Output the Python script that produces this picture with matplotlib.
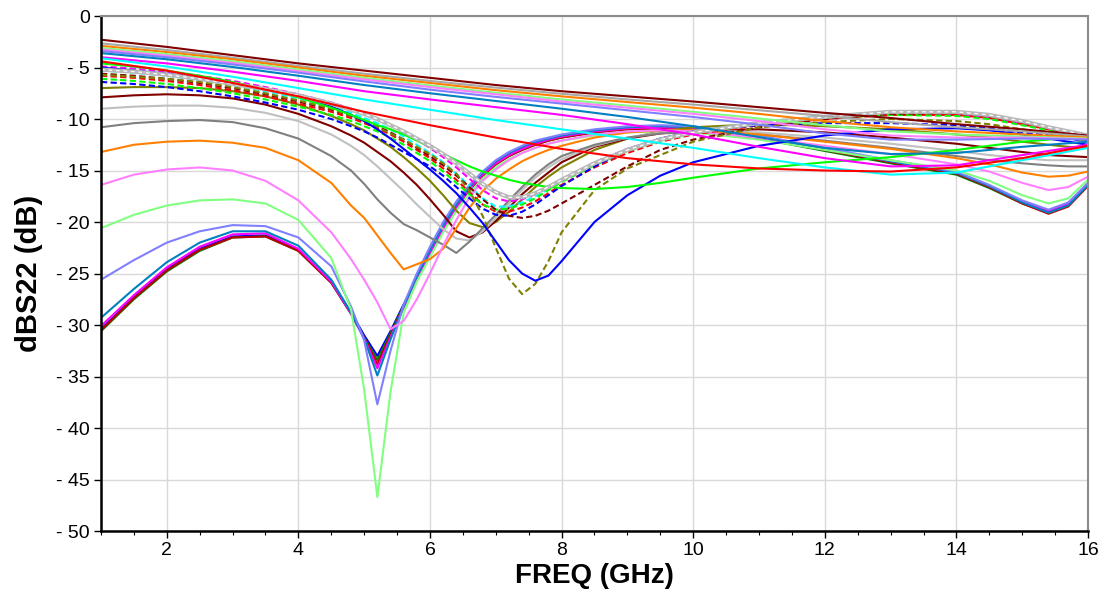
import matplotlib
matplotlib.use("Agg")
import matplotlib.pyplot as plt
from matplotlib.ticker import MultipleLocator, FuncFormatter

plt.rcParams['font.family'] = ['Liberation Sans', 'DejaVu Sans']

# upper traces, read every 1 GHz
FREQ_UPPER = [1, 2, 3, 4, 5, 6, 7, 8, 9, 10, 11, 12, 13, 14, 15, 16]
UPPER = [
    [-2.3, -3.0, -3.8, -4.6, -5.3, -6.0, -6.7, -7.3, -7.8, -8.3, -8.85, -9.4, -9.9, -10.5, -11.0, -11.6],
    [-2.65, -3.3, -4.05, -4.85, -5.6, -6.3, -6.95, -7.55, -8.1, -8.6, -9.15, -9.7, -10.3, -10.8, -11.2, -11.7],
    [-2.9, -3.5, -4.2, -5.0, -5.8, -6.5, -7.2, -7.8, -8.35, -8.9, -9.5, -10.2, -10.8, -11.2, -11.5, -11.8],
    [-3.1, -3.7, -4.4, -5.2, -6.0, -6.75, -7.45, -8.1, -8.7, -9.3, -9.95, -10.6, -11.2, -11.5, -11.7, -11.9],
    [-3.25, -3.85, -4.55, -5.35, -6.15, -6.9, -7.6, -8.3, -8.9, -9.5, -10.2, -11.0, -11.6, -11.8, -11.8, -11.95],
    [-3.4, -4.0, -4.7, -5.5, -6.35, -7.15, -7.85, -8.5, -9.15, -9.8, -10.55, -11.4, -12.0, -12.0, -11.9, -12.0],
    [-3.6, -4.2, -4.95, -5.8, -6.7, -7.5, -8.25, -9.0, -9.8, -10.7, -11.75, -12.8, -13.4, -13.3, -12.7, -12.2],
    [-4.0, -4.6, -5.4, -6.3, -7.3, -8.1, -8.85, -9.6, -10.5, -11.5, -12.7, -13.8, -14.6, -14.5, -13.5, -12.5],
    [-4.1, -4.9, -5.9, -7.0, -8.1, -9.1, -10.1, -11.0, -11.9, -12.8, -13.8, -14.7, -15.4, -15.2, -14.0, -12.8],
    [-4.4, -5.3, -6.5, -7.8, -9.3, -10.6, -11.8, -12.9, -13.8, -14.4, -14.8, -15.0, -15.1, -14.7, -13.8, -12.6],
]
UPPER_COLORS = ['#800000', '#a8a8a8', '#ff8000', '#80ff80', '#ff80ff',
                '#8080ff', '#0080c0', '#ff00ff', '#00ffff', '#ff0000']

# denser grid around the notches
FREQ = [1.0, 1.5, 2.0, 2.5, 3.0, 3.5, 4.0, 4.5, 4.8,
        5.0, 5.2, 5.4, 5.6, 5.8, 6.0, 6.2, 6.4, 6.6, 6.8,
        7.0, 7.2, 7.4, 7.6, 7.8, 8.0, 8.5, 9.0, 9.5, 10.0,
        11.0, 12.0, 13.0, 14.0, 14.5, 15.0, 15.4, 15.7, 16.0]

# traces with the notch near 7 GHz
NOTCH_7GHZ = [
    [-4.9, -5.1, -5.4, -5.8, -6.3, -6.9, -7.6, -8.4, -9.0,
     -9.5, -10.0, -10.6, -11.3, -12.0, -12.8, -13.7, -14.7, -15.8, -16.9,
     -17.7, -18.0, -17.8, -17.3, -16.6, -15.9, -14.2, -12.9, -11.9, -11.2,
     -10.4, -9.9, -9.5, -9.6, -9.9, -10.5, -11.0, -11.4, -11.8],
    [-5.3, -5.5, -5.8, -6.2, -6.7, -7.3, -8.0, -8.8, -9.4,
     -9.9, -10.4, -11.0, -11.7, -12.5, -13.3, -14.2, -15.3, -16.5, -17.7,
     -18.5, -18.5, -18.1, -17.5, -16.8, -16.0, -14.3, -12.9, -11.9, -11.2,
     -10.3, -9.7, -9.3, -9.4, -9.8, -10.4, -10.9, -11.3, -11.7],
    [-5.8, -6.0, -6.3, -6.7, -7.2, -7.8, -8.5, -9.3, -9.9,
     -10.4, -10.9, -11.5, -12.2, -13.0, -13.8, -14.8, -15.9, -17.1, -18.3,
     -19.0, -19.0, -18.6, -18.0, -17.2, -16.4, -14.7, -13.3, -12.2, -11.5,
     -10.6, -10.0, -9.6, -9.6, -9.9, -10.5, -11.0, -11.4, -11.8],
    [-6.1, -6.3, -6.6, -7.0, -7.5, -8.1, -8.8, -9.6, -10.2,
     -10.7, -11.2, -11.8, -12.5, -13.3, -14.1, -15.1, -16.2, -17.3, -18.3,
     -18.8, -18.7, -18.3, -17.7, -16.9, -16.1, -14.5, -13.1, -12.1, -11.4,
     -10.5, -9.9, -9.6, -9.7, -10.0, -10.6, -11.1, -11.5, -11.9],
    [-6.4, -6.6, -6.9, -7.3, -7.8, -8.4, -9.1, -10.0, -10.7,
     -11.2, -11.8, -12.5, -13.2, -13.9, -14.6, -15.5, -16.6, -17.7, -18.7,
     -19.3, -19.4, -19.0, -18.3, -17.4, -16.5, -14.6, -13.0, -11.9, -11.2,
     -10.6, -10.4, -10.4, -10.6, -10.9, -11.3, -11.6, -11.9, -12.2],
    [-5.6, -5.8, -6.1, -6.5, -7.0, -7.6, -8.3, -9.1, -9.7,
     -10.2, -10.7, -11.3, -12.0, -12.8, -13.6, -14.5, -15.5, -16.6, -17.8,
     -18.8, -19.4, -19.6, -19.4, -18.9, -18.2, -16.4, -14.6, -13.0, -12.0,
     -10.8, -10.0, -9.5, -9.4, -9.7, -10.3, -10.9, -11.4, -11.8],
    [-5.7, -5.9, -6.1, -6.4, -6.9, -7.5, -8.2, -9.0, -9.7,
     -10.2, -10.8, -11.4, -12.0, -12.7, -13.4, -14.3, -15.3, -17.0, -19.4,
     -22.5, -25.5, -27.0, -26.0, -23.8, -21.0, -16.9, -14.8, -13.5, -12.2,
     -10.8, -10.3, -10.0, -10.2, -10.5, -11.0, -11.4, -11.8, -12.2],
    [-5.0, -5.3, -5.6, -6.0, -6.5, -7.1, -7.8, -8.8, -9.6,
     -10.2, -11.0, -11.9, -12.9, -13.9, -14.9, -16.0, -17.2, -18.6, -20.1,
     -21.9, -23.7, -25.0, -25.7, -25.2, -23.8, -20.0, -17.4, -15.5, -14.2,
     -12.6, -11.6, -11.0, -10.9, -11.1, -11.5, -11.9, -12.2, -12.5],
    [-4.6, -4.9, -5.3, -5.8, -6.4, -7.1, -7.9, -8.9, -9.6,
     -10.1, -10.6, -11.0, -11.5, -12.1, -12.7, -13.4, -14.0, -14.6, -15.1,
     -15.5, -15.9, -16.2, -16.4, -16.6, -16.7, -16.8, -16.6, -16.2, -15.7,
     -14.8, -14.2, -13.7, -13.0, -12.6, -12.2, -12.0, -11.8, -11.7],
]
NOTCH_7GHZ_COLORS = ['#ff00ff', '#00ffff', '#ff0000', '#00ff00', '#0000ff',
                     '#800000', '#808000', '#0000ff', '#00ff00']
NOTCH_7GHZ_DASHED = [True, True, True, True, True, True, True, False, False]

# highlighted trace (thick grey with white dashes)
HIGHLIGHT = [-5.2, -5.4, -5.7, -6.1, -6.6, -7.1, -7.7, -8.5, -9.1,
             -9.5, -10.0, -10.6, -11.2, -11.9, -12.6, -13.4, -14.3, -15.3, -16.3,
             -17.1, -17.6, -17.6, -17.2, -16.6, -15.9, -14.3, -13.0, -12.0, -11.3,
             -10.4, -9.8, -9.3, -9.3, -9.6, -10.2, -10.8, -11.2, -11.6]

# traces with the notch between 5.2 and 6.8 GHz
NOTCH_6GHZ = [
    [-7.0, -6.9, -6.9, -7.0, -7.3, -7.8, -8.6, -9.7, -10.5,
     -11.1, -11.9, -12.7, -13.7, -14.8, -16.0, -17.4, -18.9, -20.1, -20.5,
     -20.0, -19.0, -17.8, -16.6, -15.6, -14.7, -13.0, -11.9, -11.2, -10.8,
     -10.5, -10.7, -11.0, -11.5, -11.8, -12.2, -12.5, -12.7, -12.8],
    [-7.9, -7.7, -7.6, -7.7, -8.0, -8.6, -9.5, -10.7, -11.6,
     -12.3, -13.2, -14.1, -15.2, -16.4, -17.8, -19.3, -20.9, -21.5, -21.0,
     -19.9, -18.6, -17.3, -16.2, -15.2, -14.2, -12.7, -11.9, -11.4, -11.1,
     -11.0, -11.3, -11.8, -12.4, -12.8, -13.2, -13.5, -13.6, -13.7],
    [-9.0, -8.8, -8.7, -8.7, -8.9, -9.4, -10.2, -11.5, -12.6,
     -13.5, -14.6, -15.8, -17.0, -18.3, -19.5, -20.7, -21.6, -21.8, -20.9,
     -19.6, -18.2, -16.9, -15.7, -14.7, -13.9, -12.6, -11.8, -11.3, -11.1,
     -11.3, -11.8, -12.4, -13.1, -13.5, -13.8, -14.0, -14.0, -14.0],
    [-10.8, -10.4, -10.2, -10.1, -10.3, -10.9, -11.9, -13.6, -15.0,
     -16.3, -17.8, -19.1, -20.2, -20.8, -21.5, -22.2, -23.0, -21.9, -20.6,
     -19.3, -17.9, -16.6, -15.4, -14.4, -13.6, -12.5, -11.8, -11.4, -11.3,
     -11.5, -12.1, -12.8, -13.6, -14.0, -14.3, -14.5, -14.6, -14.6],
    [-13.2, -12.5, -12.2, -12.1, -12.3, -12.8, -14.0, -16.2, -18.4,
     -19.6, -21.3, -23.0, -24.6, -24.1, -23.6, -22.6, -20.6, -18.6, -17.0,
     -15.8, -14.9, -14.1, -13.5, -13.0, -12.6, -11.8, -11.3, -11.1, -11.1,
     -11.5, -12.2, -12.9, -13.8, -14.4, -15.2, -15.6, -15.5, -15.1],
    [-16.4, -15.4, -14.9, -14.7, -15.0, -16.0, -17.9, -21.0, -23.6,
     -25.6, -27.8, -30.4, -29.6, -27.5, -25.0, -22.3, -19.8, -17.6, -16.0,
     -14.9, -14.0, -13.3, -12.8, -12.4, -12.1, -11.5, -11.2, -11.1, -11.2,
     -11.8, -12.6, -13.4, -14.4, -15.1, -16.2, -16.9, -16.6, -15.6],
]
NOTCH_6GHZ_COLORS = ['#808000', '#800000', '#c0c0c0', '#808080', '#ff8000', '#ff80ff']

# traces with the deep notch at 5.2 GHz
NOTCH_5GHZ = [
    [-30.4, -27.3, -24.6, -22.6, -21.4, -21.3, -22.7, -25.8, -28.8,
     -31.0, -33.0, -30.6, -28.0, -25.5, -23.1, -20.7, -18.6, -16.8, -15.4,
     -14.3, -13.5, -12.9, -12.4, -12.0, -11.7, -11.2, -10.9, -10.8, -10.9,
     -11.8, -13.0, -14.2, -15.3, -16.6, -18.1, -19.0, -18.3, -16.3],
    [-30.6, -27.5, -24.8, -22.8, -21.5, -21.4, -22.8, -25.9, -28.9,
     -31.2, -33.4, -30.8, -28.1, -25.6, -23.2, -20.8, -18.7, -16.9, -15.5,
     -14.4, -13.6, -13.0, -12.5, -12.1, -11.8, -11.3, -11.0, -10.9, -11.0,
     -11.9, -13.1, -14.3, -15.4, -16.7, -18.2, -19.1, -18.4, -16.4],
    [-30.5, -27.4, -24.7, -22.7, -21.5, -21.4, -22.8, -25.9, -28.9,
     -31.2, -33.8, -31.0, -28.2, -25.6, -23.2, -20.8, -18.7, -16.9, -15.5,
     -14.4, -13.6, -13.0, -12.5, -12.1, -11.8, -11.3, -11.0, -10.9, -11.0,
     -11.9, -13.0, -14.2, -15.3, -16.6, -18.2, -19.2, -18.5, -16.5],
    [-30.1, -27.1, -24.4, -22.4, -21.2, -21.1, -22.6, -25.8, -28.9,
     -31.3, -34.2, -31.2, -28.3, -25.6, -23.1, -20.7, -18.6, -16.8, -15.4,
     -14.3, -13.5, -12.9, -12.4, -12.0, -11.7, -11.2, -10.9, -10.8, -10.9,
     -11.8, -12.9, -14.1, -15.2, -16.5, -18.0, -18.9, -18.2, -16.2],
    [-29.3, -26.5, -23.9, -22.0, -20.9, -20.9, -22.3, -25.6, -28.8,
     -31.3, -34.9, -31.4, -28.2, -25.3, -22.7, -20.3, -18.3, -16.6, -15.2,
     -14.1, -13.3, -12.7, -12.2, -11.9, -11.6, -11.1, -10.8, -10.7, -10.8,
     -11.7, -12.9, -14.1, -15.2, -16.5, -18.1, -19.1, -18.4, -16.4],
    [-25.6, -23.7, -22.0, -20.9, -20.3, -20.4, -21.5, -24.3, -28.2,
     -31.5, -37.7, -32.5, -28.0, -25.0, -22.4, -20.0, -18.0, -16.4, -15.1,
     -14.0, -13.2, -12.6, -12.1, -11.8, -11.5, -11.0, -10.7, -10.6, -10.7,
     -11.6, -12.8, -14.0, -15.1, -16.4, -17.9, -18.8, -18.1, -16.2],
    [-20.6, -19.3, -18.4, -17.9, -17.8, -18.2, -19.8, -23.5, -28.5,
     -36.3, -46.7, -36.5, -28.8, -25.8, -23.4, -21.0, -18.9, -17.2, -15.8,
     -14.7, -13.9, -13.3, -12.8, -12.4, -12.1, -11.6, -11.3, -11.2, -11.3,
     -12.0, -13.0, -14.0, -15.0, -16.0, -17.4, -18.2, -17.7, -15.9],
]
NOTCH_5GHZ_COLORS = ['#0000ff', '#008000', '#c00000', '#ff00ff', '#0080c0', '#8080ff', '#80ff80']

Y_TICKS = [0, -5, -10, -15, -20, -25, -30, -35, -40, -45, -50]
X_TICKS = [2, 4, 6, 8, 10, 12, 14, 16]


def dash_label(value, pos):
    if value == 0:
        return '0'
    return f'- {abs(int(round(value)))}'


fig = plt.figure(figsize=(11, 5.93), dpi=100)
ax = fig.add_axes([0.0918, 0.1045, 0.8973, 0.8685])

lw = 1.5
for vals, color in zip(NOTCH_5GHZ, NOTCH_5GHZ_COLORS):
    ax.plot(FREQ, vals, color=color, lw=lw)
for vals, color in zip(NOTCH_6GHZ, NOTCH_6GHZ_COLORS):
    ax.plot(FREQ, vals, color=color, lw=lw)
for vals, color, dashed in zip(NOTCH_7GHZ, NOTCH_7GHZ_COLORS, NOTCH_7GHZ_DASHED):
    if dashed:
        ax.plot(FREQ, vals, color=color, lw=lw, dashes=(3.0, 1.6))
    else:
        ax.plot(FREQ, vals, color=color, lw=lw)
ax.plot(FREQ, HIGHLIGHT, color='#b8b8b8', lw=3.0)
ax.plot(FREQ, HIGHLIGHT, color='white', lw=0.9, dashes=(3, 3))
for vals, color in zip(UPPER, UPPER_COLORS):
    ax.plot(FREQ_UPPER, vals, color=color, lw=lw)

ax.set_xlim(1, 16)
ax.set_ylim(-50, 0)
ax.set_xticks(X_TICKS)
ax.xaxis.set_minor_locator(MultipleLocator(0.5))
ax.set_yticks(Y_TICKS)
ax.yaxis.set_major_formatter(FuncFormatter(dash_label))
ax.tick_params(axis='both', which='major', direction='out', length=5, width=1,
               labelsize=14, pad=3, colors='black')
ax.tick_params(axis='x', which='minor', direction='out', length=3, width=0.8)

ax.grid(True, which='major', color='#d9d9d9', lw=1.0)
ax.set_axisbelow(True)

for side in ('left', 'bottom'):
    ax.spines[side].set_color('black')
    ax.spines[side].set_linewidth(1.8)
for side in ('top', 'right'):
    ax.spines[side].set_color('#8c8c8c')
    ax.spines[side].set_linewidth(1.5)

ax.set_xlabel('FREQ (GHz)', fontsize=20, fontweight='bold')
ax.set_ylabel('dBS22 (dB)', fontsize=21, fontweight='bold')
ax.xaxis.set_label_coords(0.5, -0.062)
ax.yaxis.set_label_coords(-0.059, 0.5)

fig.savefig('out.png', dpi=100)
